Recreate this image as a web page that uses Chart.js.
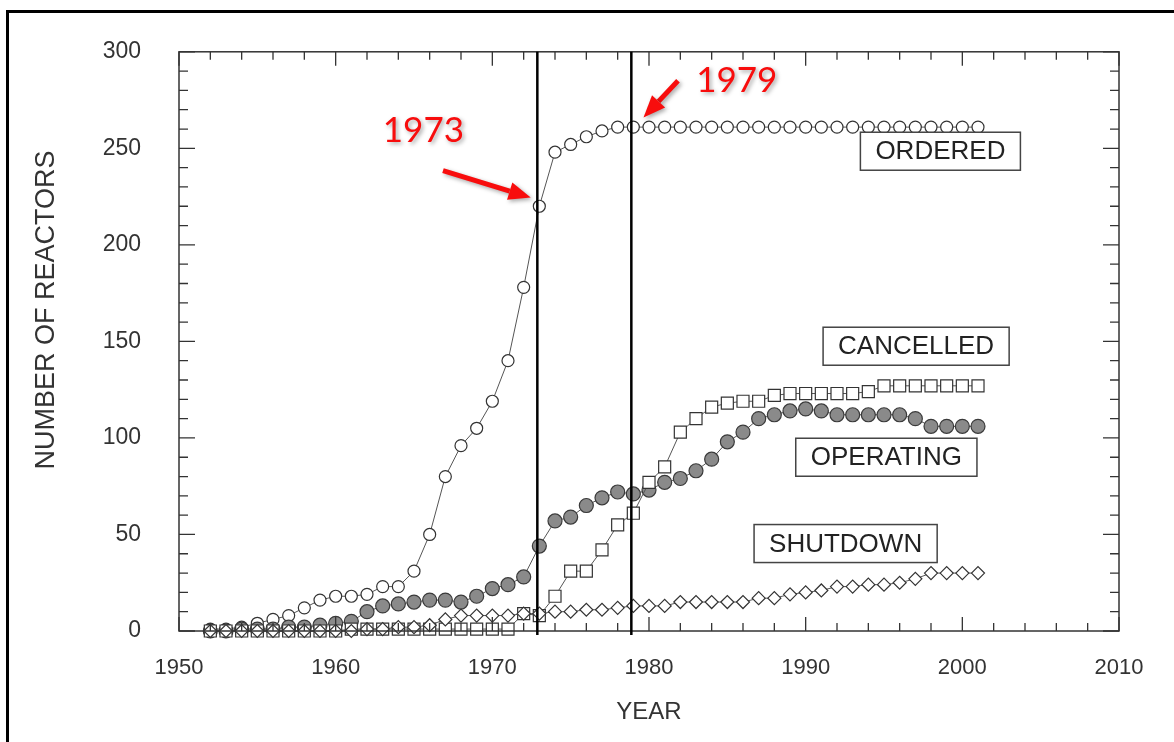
<!DOCTYPE html>
<html>
<head>
<meta charset="utf-8">
<title>Number of reactors</title>
<script src="https://cdn.jsdelivr.net/npm/chart.js@4/dist/chart.umd.min.js"></script>
<style>
body { margin: 0; background: #fff; }
#wrap { position: relative; width: 1174px; height: 742px; overflow: hidden; }
#page { position: absolute; left: 6px; top: 10px; width: 1200px; height: 760px; border-top: 3px solid #000; border-left: 3px solid #000; pointer-events: none; }
</style>
</head>
<body>
<div id="wrap">
    <canvas id="reactorChart"></canvas>
    <div id="page"></div>
</div>
<script>
// data
const years = [1952, 1953, 1954, 1955, 1956, 1957, 1958, 1959, 1960, 1961,
    1962, 1963, 1964, 1965, 1966, 1967, 1968, 1969, 1970, 1971,
    1972, 1973, 1974, 1975, 1976, 1977, 1978, 1979, 1980, 1981,
    1982, 1983, 1984, 1985, 1986, 1987, 1988, 1989, 1990, 1991,
    1992, 1993, 1994, 1995, 1996, 1997, 1998, 1999, 2000, 2001];

const ordered = [1, 1, 2, 4, 6, 8, 12, 16, 18, 18,
    19, 23, 23, 31, 50, 80, 96, 105, 119, 140,
    178, 220, 248, 252, 256, 259, 261, 261, 261, 261,
    261, 261, 261, 261, 261, 261, 261, 261, 261, 261,
    261, 261, 261, 261, 261, 261, 261, 261, 261, 261];

const operating = [0, 0, 1, 1, 1, 2, 2, 3, 4, 5,
    10, 13, 14, 15, 16, 16, 15, 18, 22, 24,
    28, 44, 57, 59, 65, 69, 72, 71, 73, 77,
    79, 83, 89, 98, 103, 110, 112, 114, 115, 114,
    112, 112, 112, 112, 112, 110, 106, 106, 106, 106];

const cancelled = [0, 0, 0, 0, 0, 0, 0, 0, 0, 1,
    1, 1, 1, 1, 1, 1, 1, 1, 1, 1,
    9, 8, 18, 31, 31, 42, 55, 61, 77, 85,
    103, 110, 116, 118, 119, 119, 122, 123, 123, 123,
    123, 123, 124, 127, 127, 127, 127, 127, 127, 127];

const shutdown = [0, 0, 0, 0, 0, 0, 0, 0, 0, 0,
    1, 1, 2, 2, 3, 6, 8, 8, 8, 8,
    9, 9, 10, 10, 11, 11, 12, 13, 13, 13,
    15, 15, 15, 15, 15, 17, 17, 19, 20, 21,
    23, 23, 24, 24, 25, 27, 30, 30, 30, 30];

const xTicks = [1950, 1960, 1970, 1980, 1990, 2000, 2010];
const yTicks = [0, 50, 100, 150, 200, 250, 300];
const markYears = [1973, 1979];

// label boxes, anchored in data units
const seriesBoxes = [
    { text: 'ORDERED', x: 1998.6, y: 248.5 },
    { text: 'CANCELLED', x: 1997.05, y: 147.5 },
    { text: 'OPERATING', x: 1995.15, y: 90 },
    { text: 'SHUTDOWN', x: 1992.55, y: 45.3 }
];

// red call-outs
const callouts = [
    { text: '1973', tx: 1965.6, ty: 259, from: [1966.85, 238.5], to: [1972.45, 224.5] },
    { text: '1979', tx: 1985.6, ty: 285, from: [1981.85, 285], to: [1979.65, 266] }
];

function pts(values) {
    return years.map((yr, i) => ({ x: yr, y: values[i] }));
}

function drawArrow(ctx, x1, y1, x2, y2) {
    const ang = Math.atan2(y2 - y1, x2 - x1);
    const head = 22, half = 9;
    const bx = x2 - head * Math.cos(ang), by = y2 - head * Math.sin(ang);
    ctx.beginPath();
    ctx.moveTo(x1, y1);
    ctx.lineTo(bx, by);
    ctx.lineWidth = 5;
    ctx.stroke();
    ctx.beginPath();
    ctx.moveTo(x2, y2);
    ctx.lineTo(bx + half * Math.sin(ang), by - half * Math.cos(ang));
    ctx.lineTo(bx - half * Math.sin(ang), by + half * Math.cos(ang));
    ctx.closePath();
    ctx.fill();
}

const decor = {
    id: 'decor',
    afterDatasetsDraw(chart) {
        const { ctx, chartArea: a, scales: { x, y } } = chart;
        ctx.save();

        // frame
        ctx.strokeStyle = '#333';
        ctx.lineWidth = 1.5;
        ctx.strokeRect(a.left, a.top, a.right - a.left, a.bottom - a.top);

        // inward tick marks on all four sides
        ctx.lineWidth = 1.3;
        ctx.beginPath();
        for (let v = 1950; v <= 2010; v += 2) {
            const px = x.getPixelForValue(v);
            const len = v % 10 === 0 ? 14 : 8;
            ctx.moveTo(px, a.bottom); ctx.lineTo(px, a.bottom - len);
            ctx.moveTo(px, a.top); ctx.lineTo(px, a.top + len);
        }
        for (let v = 0; v <= 300; v += 10) {
            const py = y.getPixelForValue(v);
            const len = v % 50 === 0 ? 16 : 9;
            ctx.moveTo(a.left, py); ctx.lineTo(a.left + len, py);
            ctx.moveTo(a.right, py); ctx.lineTo(a.right - len, py);
        }
        ctx.stroke();

        // 1973 / 1979 lines
        ctx.strokeStyle = '#000';
        ctx.lineWidth = 2.5;
        ctx.beginPath();
        markYears.forEach(yr => {
            const px = x.getPixelForValue(yr) - 2;
            ctx.moveTo(px, a.top);
            ctx.lineTo(px, a.bottom + 4);
        });
        ctx.stroke();

        // series label boxes
        ctx.font = '26px "Liberation Sans", Arial, sans-serif';
        ctx.textAlign = 'center';
        ctx.textBaseline = 'middle';
        seriesBoxes.forEach(b => {
            const cx = x.getPixelForValue(b.x), cy = y.getPixelForValue(b.y);
            const w = ctx.measureText(b.text).width + 30, h = 38;
            ctx.fillStyle = '#fff';
            ctx.fillRect(cx - w / 2, cy - h / 2, w, h);
            ctx.strokeStyle = '#444';
            ctx.lineWidth = 1.5;
            ctx.strokeRect(cx - w / 2, cy - h / 2, w, h);
            ctx.fillStyle = '#222';
            ctx.fillText(b.text, cx, cy + 1);
        });

        // y axis title
        ctx.save();
        ctx.translate(47, 310);
        ctx.rotate(-Math.PI / 2);
        ctx.font = '27px "Liberation Sans", Arial, sans-serif';
        ctx.fillStyle = '#333';
        ctx.fillText('NUMBER OF REACTORS', 0, 0);
        ctx.restore();

        // red call-outs
        ctx.fillStyle = '#f80d0d';
        ctx.strokeStyle = '#f80d0d';
        ctx.shadowColor = 'rgba(0,0,0,0.35)';
        ctx.shadowBlur = 4;
        ctx.shadowOffsetX = 2;
        ctx.shadowOffsetY = 2;
        ctx.font = '35px Lato, "Open Sans", sans-serif';
        callouts.forEach(c => {
            ctx.fillText(c.text, x.getPixelForValue(c.tx), y.getPixelForValue(c.ty));
            drawArrow(ctx,
                x.getPixelForValue(c.from[0]), y.getPixelForValue(c.from[1]),
                x.getPixelForValue(c.to[0]), y.getPixelForValue(c.to[1]));
        });

        ctx.restore();
    }
};

const line = { borderColor: '#555', borderWidth: 1, pointBorderWidth: 1.2, clip: false, tension: 0 };

new Chart(document.getElementById('reactorChart'), {
    type: 'line',
    data: {
        datasets: [
            Object.assign({ label: 'SHUTDOWN', data: pts(shutdown), pointStyle: 'rectRot', pointRadius: 6.5,
                pointBackgroundColor: '#fff', pointBorderColor: '#333' }, line),
            Object.assign({ label: 'CANCELLED', data: pts(cancelled), pointStyle: 'rect', pointRadius: 8.5,
                pointBackgroundColor: '#fff', pointBorderColor: '#333' }, line),
            Object.assign({ label: 'OPERATING', data: pts(operating), pointStyle: 'circle', pointRadius: 7,
                pointBackgroundColor: '#8a8a8a', pointBorderColor: '#3a3a3a' }, line),
            Object.assign({ label: 'ORDERED', data: pts(ordered), pointStyle: 'circle', pointRadius: 6,
                pointBackgroundColor: '#fff', pointBorderColor: '#333' }, line)
        ]
    },
    options: {
        responsive: true,
        maintainAspectRatio: false,
        animation: false,
        layout: { padding: { top: 42, right: 55, bottom: 0, left: 0 } },
        plugins: {
            legend: { display: false },
            tooltip: { enabled: false }
        },
        scales: {
            x: {
                type: 'linear',
                min: 1950,
                max: 2010,
                afterBuildTicks: s => { s.ticks = xTicks.map(v => ({ value: v })); },
                afterFit: s => { s.height = 111; },
                grid: { display: false, drawTicks: false },
                border: { display: false },
                ticks: {
                    padding: 24,
                    color: '#333',
                    font: { family: '"Liberation Sans", Arial, sans-serif', size: 22 },
                    callback: v => String(v)
                },
                title: {
                    display: true,
                    text: 'YEAR',
                    color: '#333',
                    font: { family: '"Liberation Sans", Arial, sans-serif', size: 24, lineHeight: 1.2 },
                    padding: { top: 0, bottom: 15 }
                }
            },
            y: {
                min: 0,
                max: 300,
                afterBuildTicks: s => { s.ticks = yTicks.map(v => ({ value: v })); },
                afterFit: s => { s.width = 179; },
                grid: { display: false, drawTicks: false },
                border: { display: false },
                ticks: {
                    padding: 38,
                    color: '#333',
                    font: { family: '"Liberation Sans", Arial, sans-serif', size: 23 }
                }
            }
        }
    },
    plugins: [decor]
});
</script>
</body>
</html>
